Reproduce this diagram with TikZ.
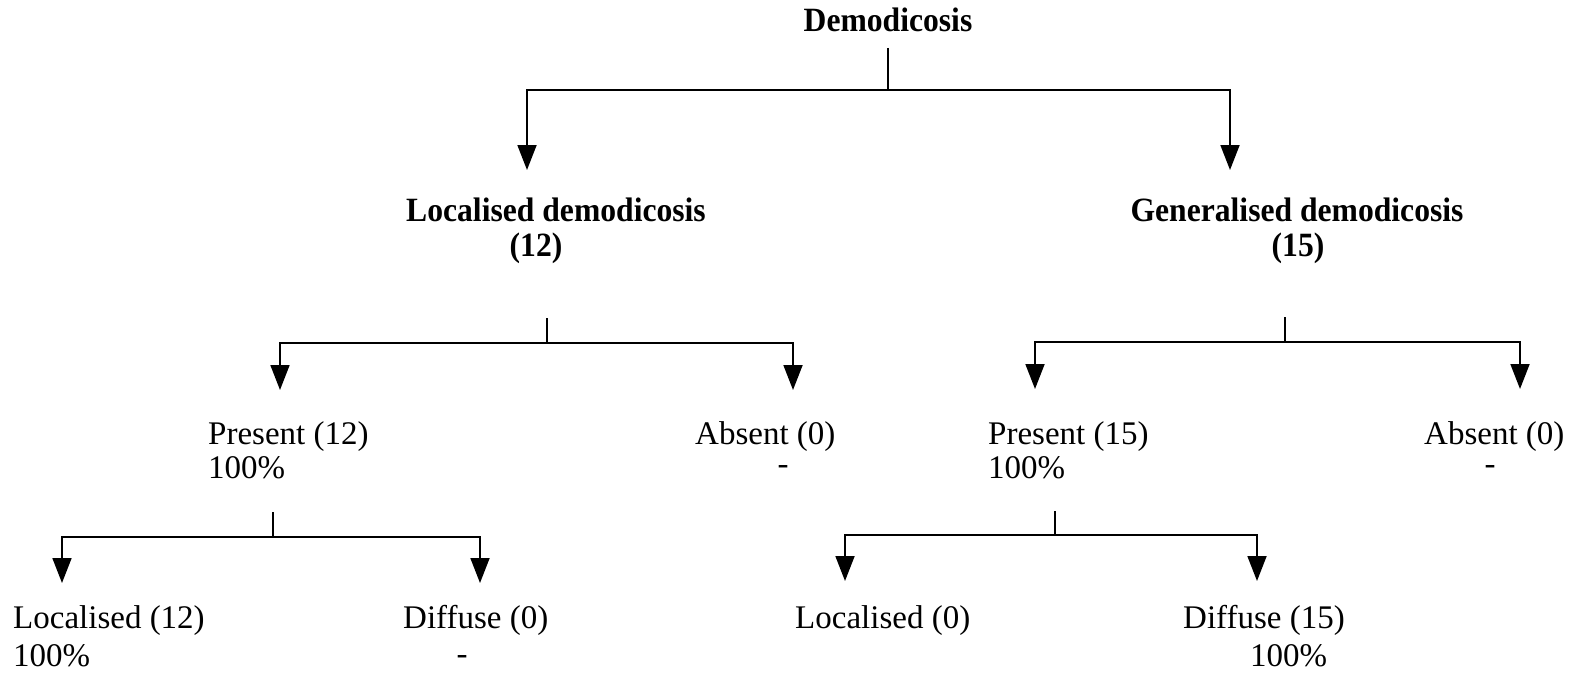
\documentclass[tikz,border=0pt]{standalone}
\usepackage{fontspec}
\setmainfont{Liberation Serif}
\usetikzlibrary{arrows.meta}
\newcommand{\bsq}[1]{\scalebox{0.93}[1]{#1}}
\tikzset{
  reg/.style={inner sep=0pt, font=\fontsize{33}{36}\selectfont},
  dashmark/.style={inner sep=0pt, font=\fontsize{33}{36}\selectfont, text height=9pt, text depth=0pt},
  hd/.style={inner sep=0pt, font=\fontsize{34}{38}\selectfont\bfseries},
  link/.style={line width=1.8pt},
  arr/.style={line width=1.8pt, -{Triangle[length=25pt,width=19pt]}},
}
\begin{document}
\begin{tikzpicture}[x=1pt,y=-1pt]
\useasboundingbox (0,0) rectangle (1570,674);
% headings
\node[hd, anchor=base] (root) at (888,32) {\bsq{Demodicosis}};
\node[hd, anchor=base] (loc) at (556,221) {\bsq{Localised demodicosis}};
\node[hd, anchor=base] (locn) at (536,256) {\bsq{(12)}};
\node[hd, anchor=base] (gen) at (1297,221) {\bsq{Generalised demodicosis}};
\node[hd, anchor=base] (genn) at (1298,256) {\bsq{(15)}};
% level 2
\node[reg, anchor=base west] (pres1) at (208,444) {Present (12)};
\node[reg, anchor=base west] (pres1p) at (208,478) {100\%};
\node[reg, anchor=base west] (abs1) at (695,444) {Absent (0)};
\node[dashmark, anchor=base] (abs1p) at (783,474) {-};
\node[reg, anchor=base west] (pres2) at (988,444) {Present (15)};
\node[reg, anchor=base west] (pres2p) at (988,478) {100\%};
\node[reg, anchor=base west] (abs2) at (1424,444) {Absent (0)};
\node[dashmark, anchor=base] (abs2p) at (1490,474) {-};
% level 3
\node[reg, anchor=base west] (loc1) at (13,628) {Localised (12)};
\node[reg, anchor=base west] (loc1p) at (13,666) {100\%};
\node[reg, anchor=base west] (dif1) at (403,628) {Diffuse (0)};
\node[dashmark, anchor=base] (dif1p) at (462,664) {-};
\node[reg, anchor=base west] (loc2) at (795,628) {Localised (0)};
\node[reg, anchor=base west] (dif2) at (1183,628) {Diffuse (15)};
\node[reg, anchor=base west] (dif2p) at (1250,666) {100\%};
% junction coordinates
\coordinate (t0) at (888,48);
\coordinate (j0) at (888,90);
\coordinate (a0l) at (527,170);
\coordinate (a0r) at (1230,170);
\coordinate (t1) at (547,318);
\coordinate (j1) at (547,343);
\coordinate (a1l) at (280,390);
\coordinate (a1r) at (793,390);
\coordinate (t2) at (1285,317);
\coordinate (j2) at (1285,342);
\coordinate (a2l) at (1035,389);
\coordinate (a2r) at (1520,389);
\coordinate (t3) at (273,512);
\coordinate (j3) at (273,537);
\coordinate (a3l) at (62,583);
\coordinate (a3r) at (480,583);
\coordinate (t4) at (1055,511);
\coordinate (j4) at (1055,535);
\coordinate (a4l) at (845,581);
\coordinate (a4r) at (1257,581);
% connectors
\draw[link] (t0) -- (j0);
\draw[arr] (j0) -| (a0l);
\draw[arr] (j0) -| (a0r);
\draw[link] (t1) -- (j1);
\draw[arr] (j1) -| (a1l);
\draw[arr] (j1) -| (a1r);
\draw[link] (t2) -- (j2);
\draw[arr] (j2) -| (a2l);
\draw[arr] (j2) -| (a2r);
\draw[link] (t3) -- (j3);
\draw[arr] (j3) -| (a3l);
\draw[arr] (j3) -| (a3r);
\draw[link] (t4) -- (j4);
\draw[arr] (j4) -| (a4l);
\draw[arr] (j4) -| (a4r);
\end{tikzpicture}
\end{document}
